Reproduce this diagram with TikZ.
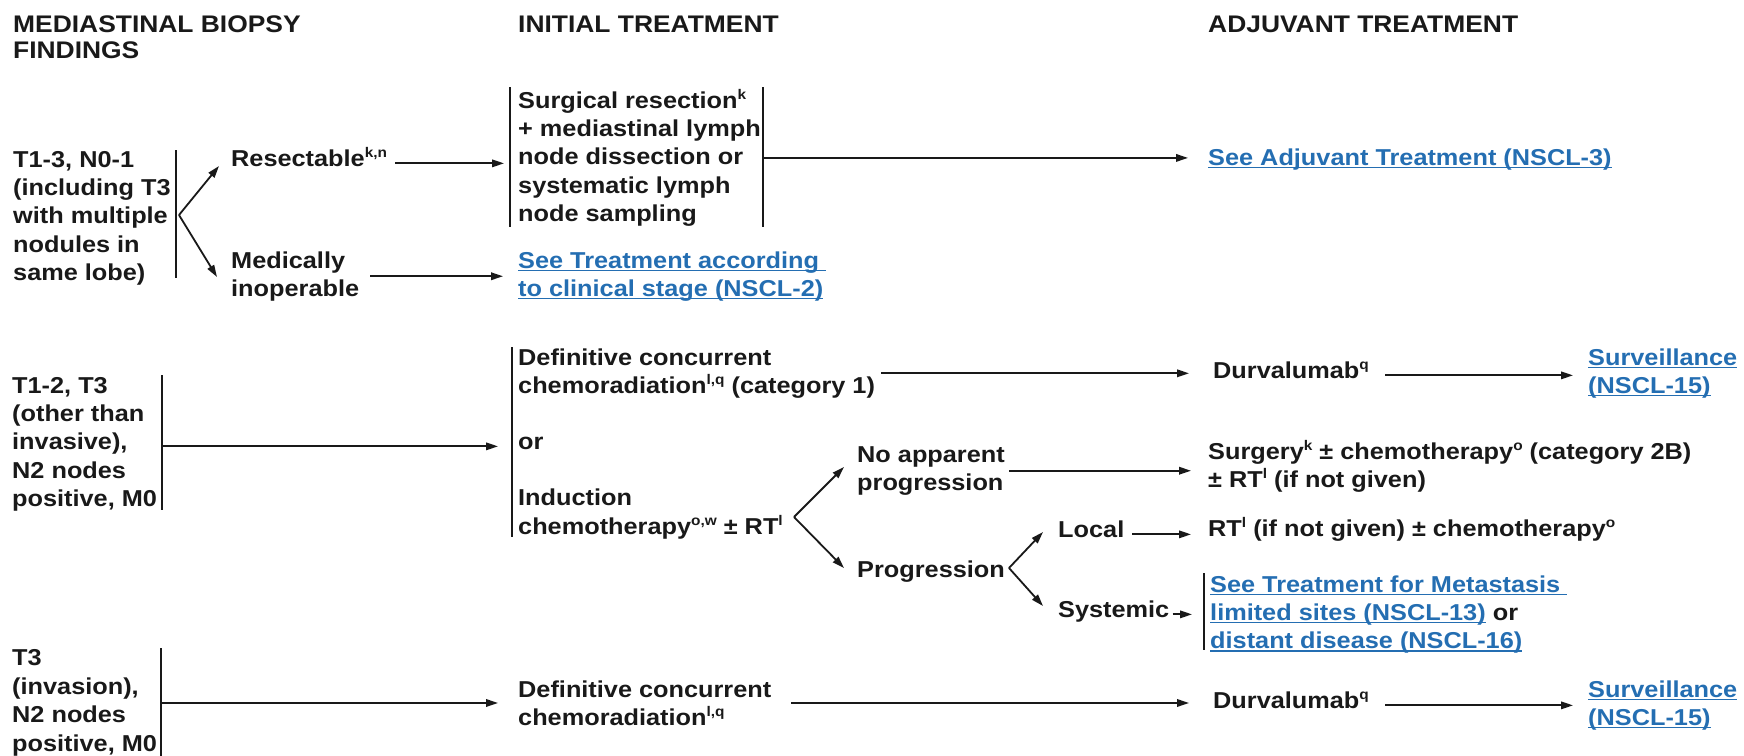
\documentclass[tikz,border=0pt]{standalone}
\usepackage{fontspec}
\setmainfont{Liberation Sans}[FakeStretch=1.1]
\usetikzlibrary{arrows.meta,calc}
\definecolor{txt}{RGB}{25,25,25}
\definecolor{lnk}{RGB}{36,110,178}
\newcommand\sps[1]{\raisebox{8.5pt}{\fontsize{14}{14}\selectfont #1}}
\newcommand\ulk[1]{{\color{lnk}\setbox0\hbox{#1}\rlap{\rule[-3pt]{\wd0}{1.4pt}}\box0}}
\begin{document}
% multi-line nodes are placed by the baseline of their LAST line
\begin{tikzpicture}[x=1pt,y=-1pt,
  every node/.style={inner sep=0pt, anchor=base west, align=left, text=txt,
     font=\bfseries\fontsize{23}{28.4}\selectfont},
  hd/.style={font=\bfseries\fontsize{24}{26.6}\selectfont},
  arr/.style={draw=txt, line width=1.8pt, -{Triangle[length=12pt,width=7.5pt]}},
  bar/.style={draw=txt, line width=2.2pt},
]
\useasboundingbox (0,0) rectangle (1744,755);

% headings
\node[hd] (h1) at (13,58.6) {MEDIASTINAL BIOPSY\\FINDINGS};
\node[hd] (h2) at (518,32) {INITIAL TREATMENT};
\node[hd] (h3) at (1208,32) {ADJUVANT TREATMENT};

% ---------- row 1
\node (r1) at (13,280.6) {T1-3, N0-1\\(including T3\\with multiple\\nodules in\\same lobe)};
\coordinate (b1t) at (176,150); \coordinate (b1b) at (176,278);
\draw[bar] (b1t) -- (b1b);
\node (res) at (231,166) {Resectable\sps{k,n}};
\node (med) at (231,296.4) {Medically\\inoperable};
\coordinate (f1) at (179,215);
\coordinate (f1a) at (219,166); \coordinate (f1b) at (217,277);
\draw[arr] (f1) -- (f1a);
\draw[arr] (f1) -- (f1b);

\node (surg) at (518,221.6) {Surgical resection\sps{k}\\+ mediastinal lymph\\node dissection or\\systematic lymph\\node sampling};
\coordinate (s1t) at (510,87); \coordinate (s1b) at (510,227);
\coordinate (s2t) at (763,87); \coordinate (s2b) at (763,227);
\draw[bar] (s1t) -- (s1b);
\draw[bar] (s2t) -- (s2b);
\draw[arr, shorten <=8pt, shorten >=6pt] (res.mid east) -- (res.mid east -| s1t);

\node (seetx) at (518,296.4) {\ulk{See Treatment according }\\\ulk{to clinical stage (NSCL-2)}};
\draw[arr, shorten <=11pt, shorten >=15pt] (med.east) -- (med.east -| seetx.west);

\node (adj) at (1208,165) {\ulk{See Adjuvant Treatment (NSCL-3)}};
\draw[arr, shorten >=20pt] (surg.east -| s2t) -- (surg.east -| adj.west);

% ---------- row 2
\node (r2) at (12,506.6) {T1-2, T3\\(other than\\invasive),\\N2 nodes\\positive, M0};
\coordinate (b2t) at (162,375); \coordinate (b2b) at (162,510);
\draw[bar] (b2t) -- (b2b);

\node (def1) at (518,393.4) {Definitive concurrent\\chemoradiation\sps{l,q} (category 1)};
\node (or1) at (518,449) {or};
\node (ind) at (518,534) {Induction\\chemotherapy\sps{o,w} ± RT\sps{l}};
\coordinate (d1t) at (512,347); \coordinate (d1b) at (512,537);
\draw[bar] (d1t) -- (d1b);
\draw[arr, shorten >=20pt] (b2t |- or1.mid west) -- (or1.mid west);

\node (dur1) at (1213,378) {Durvalumab\sps{q}};
\node (surv1) at (1588,393.4) {\ulk{Surveillance}\\\ulk{(NSCL-15)}};
\draw[arr, shorten <=6pt, shorten >=24pt] (def1.east) -- (def1.east -| dur1.west);
\draw[arr, shorten <=16pt, shorten >=15pt] (dur1.mid east) -- (dur1.mid east -| surv1.west);

\node (noap) at (857,490.4) {No apparent\\progression};
\node (prog) at (857,577) {Progression};
\coordinate (f2) at (794,517);
\coordinate (f2a) at (844,467); \coordinate (f2b) at (844,568);
\draw[arr] (f2) -- (f2a);
\draw[arr] (f2) -- (f2b);

\node (surg2) at (1208,487.4) {Surgery\sps{k} ± chemotherapy\sps{o} (category 2B)\\± RT\sps{l} (if not given)};
\draw[arr, shorten <=4pt, shorten >=17pt] (noap.east) -- (noap.east -| surg2.west);

\node (local) at (1058,537) {Local};
\node (syst) at (1058,617) {Systemic};
\coordinate (f3) at (1009,568);
\coordinate (f3a) at (1043,532); \coordinate (f3b) at (1043,606);
\draw[arr] (f3) -- (f3a);
\draw[arr] (f3) -- (f3b);

\node (rt) at (1208,536) {RT\sps{l} (if not given) ± chemotherapy\sps{o}};
\draw[arr, shorten <=8pt, shorten >=17pt] (local.mid east) -- (local.mid east -| rt.west);

\node (meta) at (1210,648.8) {\ulk{See Treatment for Metastasis }\\\ulk{limited sites (NSCL-13)} or\\\ulk{distant disease (NSCL-16)}};
\coordinate (m1t) at (1204,573); \coordinate (m1b) at (1204,650);
\draw[bar] (m1t) -- (m1b);
\draw[arr, shorten <=3pt, shorten >=12pt] (syst.mid east) -- (syst.mid east -| m1t);

% ---------- row 3
\node (r3) at (12,751) {T3\\(invasion),\\N2 nodes\\positive, M0};
\coordinate (b3t) at (161,648); \coordinate (b3b) at (161,758);
\draw[bar] (b3t) -- (b3b);
\node (def3) at (518,725.4) {Definitive concurrent\\chemoradiation\sps{l,q}};
\draw[arr, shorten >=20pt] (b3t |- def3.west) -- (def3.west);
\node (dur3) at (1213,708) {Durvalumab\sps{q}};
\node (surv3) at (1588,725.4) {\ulk{Surveillance}\\\ulk{(NSCL-15)}};
\draw[arr, shorten <=20pt, shorten >=24pt] (def3.east) -- (def3.east -| dur3.west);
\draw[arr, shorten <=16pt, shorten >=15pt] (dur3.mid east) -- (dur3.mid east -| surv3.west);
\end{tikzpicture}
\end{document}
